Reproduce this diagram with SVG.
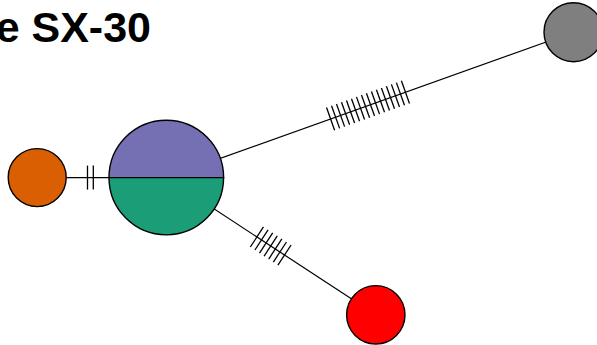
<svg xmlns="http://www.w3.org/2000/svg" width="597" height="345" viewBox="0 0 597 345">
<style>
.edge{stroke:#000;stroke-width:1.2;fill:none}
.tick{stroke:#000;stroke-width:1.3;fill:none}
.node{stroke:#000;stroke-width:1.4}
.title{font-family:"Liberation Sans",Arial,sans-serif;font-weight:bold;font-size:43px;fill:#000}
</style>
<rect width="597" height="345" fill="#fff"/>
<text class="title" x="151" y="42" text-anchor="end">e SX-30</text>
<g id="connectors">
<line class="edge" x1="37.2" y1="177.6" x2="166.3" y2="177.6"/>
<line class="edge" x1="166.3" y1="177.6" x2="573.5" y2="32.2"/>
<line class="edge" x1="166.3" y1="177.6" x2="375.8" y2="314.8"/>
<g transform="translate(90.4,177.6)">
<line class="tick" x1="-2.9" y1="-12" x2="-2.9" y2="12"/>
<line class="tick" x1="2.9" y1="-12" x2="2.9" y2="12"/>
</g>
<g transform="translate(368,105.5) rotate(-19.68)">
<line class="tick" x1="-39.75" y1="-12" x2="-39.75" y2="12"/>
<line class="tick" x1="-34.45" y1="-12" x2="-34.45" y2="12"/>
<line class="tick" x1="-29.15" y1="-12" x2="-29.15" y2="12"/>
<line class="tick" x1="-23.85" y1="-12" x2="-23.85" y2="12"/>
<line class="tick" x1="-18.55" y1="-12" x2="-18.55" y2="12"/>
<line class="tick" x1="-13.25" y1="-12" x2="-13.25" y2="12"/>
<line class="tick" x1="-7.95" y1="-12" x2="-7.95" y2="12"/>
<line class="tick" x1="-2.65" y1="-12" x2="-2.65" y2="12"/>
<line class="tick" x1="2.65" y1="-12" x2="2.65" y2="12"/>
<line class="tick" x1="7.95" y1="-12" x2="7.95" y2="12"/>
<line class="tick" x1="13.25" y1="-12" x2="13.25" y2="12"/>
<line class="tick" x1="18.55" y1="-12" x2="18.55" y2="12"/>
<line class="tick" x1="23.85" y1="-12" x2="23.85" y2="12"/>
<line class="tick" x1="29.15" y1="-12" x2="29.15" y2="12"/>
<line class="tick" x1="34.45" y1="-12" x2="34.45" y2="12"/>
<line class="tick" x1="39.75" y1="-12" x2="39.75" y2="12"/>
</g>
<g transform="translate(270.7,246) rotate(33.22)">
<line class="tick" x1="-16.5" y1="-12" x2="-16.5" y2="12"/>
<line class="tick" x1="-11" y1="-12" x2="-11" y2="12"/>
<line class="tick" x1="-5.5" y1="-12" x2="-5.5" y2="12"/>
<line class="tick" x1="0" y1="-12" x2="0" y2="12"/>
<line class="tick" x1="5.5" y1="-12" x2="5.5" y2="12"/>
<line class="tick" x1="11" y1="-12" x2="11" y2="12"/>
<line class="tick" x1="16.5" y1="-12" x2="16.5" y2="12"/>
</g>
</g>
<g id="node-orange">
<circle class="node" cx="37.2" cy="177.6" r="29" fill="#d95f02"/>
</g>
<g id="node-main">
<path class="node" d="M109,177.6 A57.3,57.3 0 0 1 223.6,177.6 Z" fill="#7570b3"/>
<path class="node" d="M109,177.6 A57.3,57.3 0 0 0 223.6,177.6 Z" fill="#1b9e77"/>
</g>
<g id="node-gray">
<circle class="node" cx="573.5" cy="32.2" r="29.5" fill="#7f7f7f"/>
</g>
<g id="node-red">
<circle class="node" cx="375.8" cy="314.8" r="29.2" fill="#ff0000"/>
</g>
</svg>
